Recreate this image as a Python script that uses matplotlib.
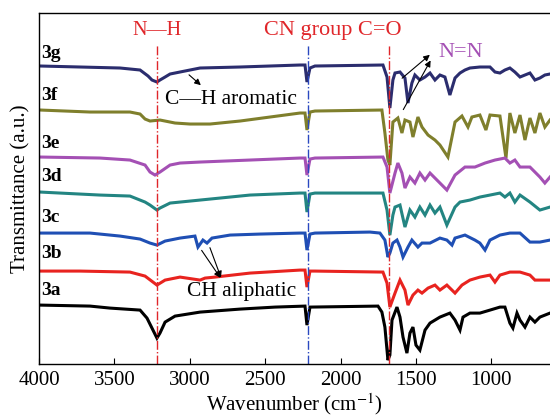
import matplotlib
matplotlib.use("Agg")
import matplotlib.pyplot as plt

plt.rcParams['font.family'] = ['Liberation Serif', 'DejaVu Serif']
plt.rcParams['mathtext.fontset'] = 'stix'

# ---------------- data (wavenumber cm-1, transmittance a.u. incl. stacking offset) -------------
wn_3g = [3993, 3728, 3463, 3330, 3277, 3251, 3218, 3198, 3164, 3131, 3065, 2932, 2667, 2269, 2236, 2223, 2203, 2170,
         1719, 1692, 1673, 1653, 1639, 1606, 1573, 1553, 1527, 1507, 1474, 1440, 1407, 1374, 1341, 1308, 1275, 1241,
         1208, 1175, 1142, 1076, 1009, 976, 943, 910, 877, 844, 810, 744, 711, 678, 645, 611]
t_3g = [2.98, 2.97, 2.96, 2.94, 2.88, 2.84, 2.82, 2.84, 2.87, 2.90, 2.92, 2.96, 2.97, 2.99, 2.99, 2.82, 2.96, 2.98,
        2.99, 2.87, 2.56, 2.84, 2.91, 2.92, 2.86, 2.61, 2.81, 2.89, 2.84, 2.87, 2.91, 2.84, 2.89, 2.87, 2.69, 2.86,
        2.91, 2.94, 2.96, 2.97, 2.97, 2.92, 2.91, 2.94, 2.96, 2.92, 2.87, 2.91, 2.84, 2.86, 2.89, 2.90]

wn_3f = [3993, 3662, 3397, 3330, 3297, 3264, 3198, 3098, 2999, 2866, 2667, 2468, 2269, 2236, 2223, 2203, 2170,
         1726, 1706, 1686, 1673, 1653, 1620, 1593, 1573, 1540, 1520, 1487, 1460, 1420, 1374, 1341, 1288, 1241,
         1195, 1155, 1129, 1076, 1036, 1009, 943, 903, 877, 844, 810, 777, 744, 711, 678, 645, 611]
t_3f = [2.54, 2.52, 2.52, 2.50, 2.45, 2.43, 2.44, 2.41, 2.40, 2.40, 2.43, 2.47, 2.51, 2.51, 2.34, 2.52, 2.53,
        2.54, 2.31, 2.04, 1.99, 2.42, 2.46, 2.31, 2.44, 2.42, 2.27, 2.47, 2.37, 2.29, 2.24, 2.19, 2.07, 2.42,
        2.48, 2.37, 2.47, 2.49, 2.34, 2.49, 2.48, 2.06, 2.51, 2.31, 2.49, 2.24, 2.46, 2.31, 2.51, 2.37, 2.44]

wn_3e = [3993, 3596, 3397, 3297, 3264, 3231, 3198, 3131, 3065, 2932, 2601, 2269, 2236, 2223, 2203, 2170,
         1719, 1692, 1673, 1639, 1620, 1593, 1573, 1540, 1507, 1474, 1440, 1407, 1341, 1295, 1241, 1175,
         1109, 1042, 976, 910, 877, 844, 810, 744, 678, 645, 611]
t_3e = [2.07, 2.06, 2.04, 1.99, 1.92, 1.89, 1.92, 1.99, 2.01, 2.02, 2.04, 2.06, 2.06, 1.89, 2.05, 2.06,
        2.07, 1.97, 1.71, 1.91, 2.01, 1.91, 1.76, 1.87, 1.81, 1.91, 1.84, 1.91, 1.81, 1.74, 1.89, 1.97,
        1.97, 2.01, 2.04, 2.06, 2.01, 2.04, 1.97, 1.97, 1.87, 1.81, 1.87]

wn_3d = [3993, 3861, 3596, 3397, 3297, 3264, 3218, 3198, 3131, 2932, 2601, 2269, 2236, 2223, 2203, 2170,
         1719, 1692, 1673, 1653, 1639, 1606, 1573, 1540, 1507, 1474, 1440, 1407, 1374, 1341, 1295, 1241,
         1208, 1142, 1076, 1009, 943, 910, 877, 844, 810, 744, 678, 611]
t_3d = [1.72, 1.71, 1.69, 1.68, 1.62, 1.59, 1.54, 1.56, 1.61, 1.64, 1.69, 1.71, 1.71, 1.52, 1.70, 1.71,
        1.71, 1.54, 1.29, 1.49, 1.57, 1.59, 1.37, 1.54, 1.47, 1.57, 1.49, 1.59, 1.51, 1.57, 1.39, 1.57,
        1.62, 1.64, 1.67, 1.69, 1.71, 1.67, 1.71, 1.62, 1.69, 1.62, 1.54, 1.57]

wn_3c = [3993, 3662, 3463, 3330, 3264, 3218, 3164, 3065, 2966, 2946, 2913, 2886, 2853, 2733, 2535, 2269, 2236,
         2223, 2203, 2170, 1805, 1739, 1706, 1686, 1673, 1653, 1626, 1606, 1586, 1553, 1527, 1487, 1460, 1407,
         1341, 1295, 1261, 1241, 1175, 1109, 1076, 1042, 1009, 943, 877, 810, 744, 678, 611]
t_3c = [1.31, 1.31, 1.28, 1.25, 1.21, 1.19, 1.23, 1.26, 1.28, 1.17, 1.24, 1.21, 1.26, 1.29, 1.30, 1.31, 1.31,
        1.14, 1.30, 1.31, 1.32, 1.31, 1.24, 1.07, 1.11, 1.21, 1.24, 1.17, 1.07, 1.17, 1.24, 1.17, 1.21, 1.21,
        1.26, 1.24, 1.19, 1.26, 1.29, 1.24, 1.21, 1.14, 1.24, 1.29, 1.31, 1.31, 1.22, 1.22, 1.24]

wn_3b = [3993, 3728, 3397, 3297, 3218, 3164, 3065, 2932, 2899, 2833, 2601, 2269, 2236, 2223, 2203, 2170,
         1719, 1692, 1673, 1639, 1606, 1573, 1553, 1520, 1487, 1460, 1420, 1374, 1341, 1295, 1241, 1195,
         1142, 1076, 1009, 976, 943, 877, 810, 744, 711, 611]
t_3b = [0.93, 0.93, 0.92, 0.88, 0.79, 0.84, 0.87, 0.84, 0.86, 0.87, 0.91, 0.94, 0.94, 0.77, 0.93, 0.93,
        0.92, 0.81, 0.57, 0.71, 0.84, 0.74, 0.59, 0.69, 0.74, 0.71, 0.76, 0.79, 0.74, 0.79, 0.71, 0.79,
        0.84, 0.87, 0.89, 0.82, 0.89, 0.92, 0.92, 0.89, 0.84, 0.84]

wn_3a = [3993, 3662, 3529, 3330, 3284, 3251, 3218, 3198, 3164, 3098, 2932, 2667, 2435, 2236, 2223, 2203,
         1752, 1726, 1706, 1686, 1673, 1659, 1626, 1606, 1586, 1560, 1540, 1520, 1500, 1474, 1440, 1407,
         1341, 1275, 1241, 1208, 1188, 1142, 1076, 1009, 943, 910, 877, 857, 830, 810, 777, 744, 711, 678, 611]
t_3a = [0.59, 0.58, 0.56, 0.54, 0.46, 0.36, 0.26, 0.31, 0.42, 0.48, 0.52, 0.55, 0.57, 0.58, 0.39, 0.57,
        0.58, 0.52, 0.37, 0.04, 0.09, 0.44, 0.57, 0.47, 0.27, 0.11, 0.31, 0.37, 0.19, 0.14, 0.34, 0.41,
        0.47, 0.51, 0.44, 0.34, 0.47, 0.51, 0.51, 0.54, 0.57, 0.57, 0.41, 0.36, 0.51, 0.44, 0.37, 0.47,
        0.42, 0.47, 0.51]

sample_labels = ['3g', '3f', '3e', '3d', '3c', '3b', '3a']
label_y = [3.11, 2.69, 2.21, 1.88, 1.47, 1.11, 0.74]
colors = ['#2b2d6e', '#7f7f2c', '#a450b4', '#238582', '#1f4fb4', '#e8231f', '#000000']

band_positions = [3218, 2218, 1679]
band_colors = ['#e0262a', '#2a48c0', '#e0262a']
xticks = [4000, 3500, 3000, 2500, 2000, 1500, 1000]

series = [(wn_3g, t_3g), (wn_3f, t_3f), (wn_3e, t_3e), (wn_3d, t_3d),
          (wn_3c, t_3c), (wn_3b, t_3b), (wn_3a, t_3a)]

# ---------------- figure ----------------
fig = plt.figure(figsize=(5.5, 4.19), dpi=100)
ax = fig.add_axes([0.071, 0.131, 0.929, 0.838])

for (wn, t), c in zip(series, colors):
    ax.plot(wn, t, color=c, lw=2.2, solid_joinstyle='miter')

for xb, cb in zip(band_positions, band_colors):
    ax.plot([xb, xb], [0, 3.19], color=cb, lw=1.0, linestyle='-.')

for lab, yl in zip(sample_labels, label_y):
    ax.text(3985, yl, lab, fontsize=14, fontweight='bold', ha='left', va='center')

ax.text(3218, 3.33, 'N\u2014H', color='#e0262a', fontsize=14.5, ha='center', va='center')
ax.text(2051, 3.33, 'CN group C=O', color='#e0262a', fontsize=16, ha='center', va='center')
ax.text(1202, 3.12, 'N=N', color='#a450b4', fontsize=16, ha='center', va='center')
ax.text(3164, 2.65, 'C\u2014H aromatic', color='black', fontsize=15.5, ha='left', va='center')
ax.text(3019, 0.73, 'CH aliphatic', color='black', fontsize=15.5, ha='left', va='center')

arrow = dict(arrowstyle='-|>', color='black', lw=0.8, mutation_scale=9)
ax.annotate('', xy=(2913, 2.77), xytext=(3019, 2.91), arrowprops=arrow)
ax.annotate('', xy=(1394, 3.11), xytext=(1606, 2.84), arrowprops=arrow)
ax.annotate('', xy=(1394, 3.06), xytext=(1593, 2.52), arrowprops=arrow)
ax.annotate('', xy=(2787, 0.84), xytext=(2932, 1.16), arrowprops=arrow)
ax.annotate('', xy=(2787, 0.84), xytext=(2873, 1.19), arrowprops=arrow)

ax.set_xlim(4000, 611)
ax.set_ylim(0, 3.51)
ax.set_xticks(xticks)
ax.set_yticks([])
ax.tick_params(axis='x', direction='in', length=4, labelsize=15, pad=5)
ax.spines['right'].set_visible(False)
for s in ['left', 'bottom', 'top']:
    ax.spines[s].set_linewidth(1.0)

ax.set_xlabel('Wavenumber (cm$^{-1}$)', fontsize=15, labelpad=1)
ax.set_ylabel('Transmittance (a.u.)', fontsize=15, labelpad=6)

fig.savefig('out.png', dpi=100)
